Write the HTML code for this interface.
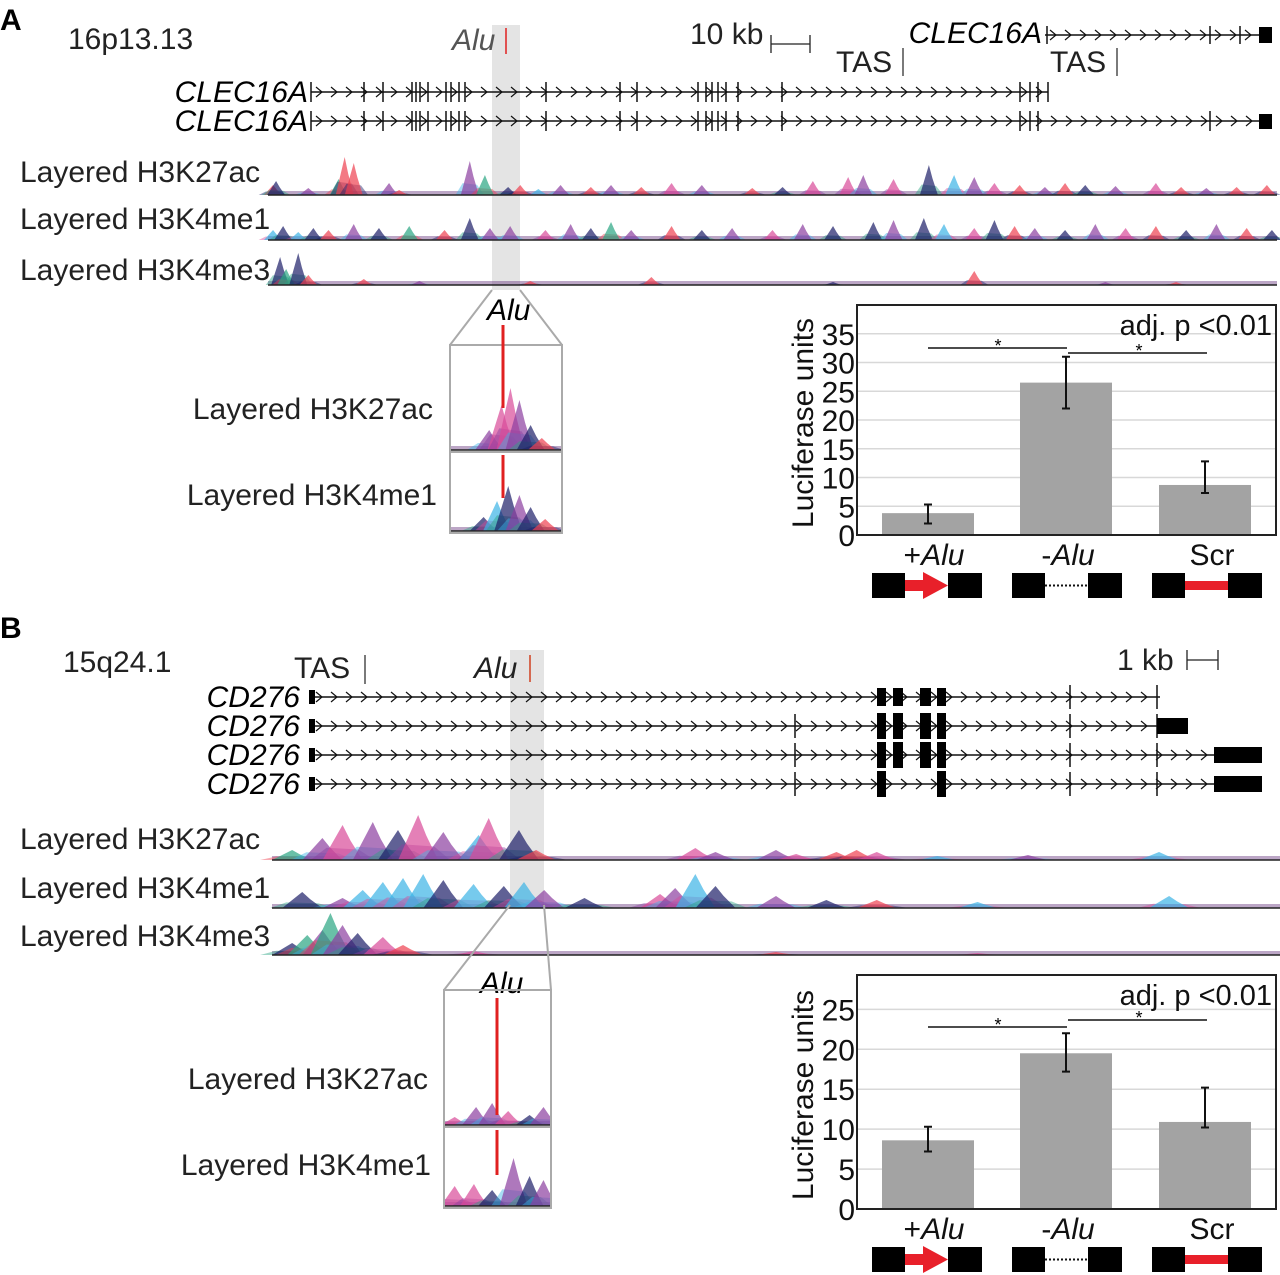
<!DOCTYPE html>
<html><head><meta charset="utf-8"><style>
body{margin:0;background:#fff}
svg{display:block;font-family:"Liberation Sans",Arial,sans-serif}
</style></head><body>
<svg id="fig" width="1280" height="1275" viewBox="0 0 1280 1275" xmlns="http://www.w3.org/2000/svg">
<defs>
<clipPath id="clipA"><rect x="450" y="345" width="112" height="188"/></clipPath>
<clipPath id="clipB"><rect x="444" y="990" width="107" height="218"/></clipPath>
</defs>
<g>
<text x="0" y="30" font-size="30" font-weight="bold">A</text>
<text x="68" y="49" font-size="30" fill="#222">16p13.13</text>
<rect x="492" y="25" width="28" height="265" fill="#e4e4e4"/>
<text x="452" y="50" font-size="30" font-style="italic" fill="#555">Alu</text>
<line x1="506" y1="28" x2="506" y2="54" stroke="#e02020" stroke-width="1.5"/>
<text x="690" y="44" font-size="30" fill="#222">10 kb</text>
<path d="M771 35V53M771 44H810M810 35V53" stroke="#222" stroke-width="1.3" fill="none"/>
<text x="836" y="72" font-size="30" fill="#222">TAS</text>
<line x1="903" y1="48" x2="903" y2="76" stroke="#333" stroke-width="1.3"/>
<text x="1050" y="72" font-size="30" fill="#222">TAS</text>
<line x1="1117" y1="48" x2="1117" y2="76" stroke="#333" stroke-width="1.3"/>
<text x="1042" y="43" font-size="30" font-style="italic" text-anchor="end">CLEC16A</text>
<text x="308" y="102" font-size="30" font-style="italic" text-anchor="end">CLEC16A</text>
<text x="308" y="131" font-size="30" font-style="italic" text-anchor="end">CLEC16A</text>
<g id="genesA"></g>
<text x="20" y="182" font-size="30" fill="#222">Layered H3K27ac</text>
<text x="20" y="229" font-size="30" fill="#222">Layered H3K4me1</text>
<text x="20" y="280" font-size="30" fill="#222">Layered H3K4me3</text>
<g id="tracksA"></g>
<path d="M492 290L450 345M520 290L562 345" stroke="#aaa" stroke-width="2" fill="none"/>
<text x="487" y="320" font-size="30" font-style="italic">Alu</text>
<g id="insetA" clip-path="url(#clipA)"></g>
<rect x="450" y="345" width="112" height="188" fill="none" stroke="#aaa" stroke-width="2"/>
<line x1="450" y1="452" x2="562" y2="452" stroke="#aaa" stroke-width="2"/>
<text x="433" y="419" font-size="30" text-anchor="end" fill="#222">Layered H3K27ac</text>
<text x="437" y="505" font-size="30" text-anchor="end" fill="#222">Layered H3K4me1</text>
<g id="chartA"></g>
</g>
<g>
<text x="0" y="638" font-size="30" font-weight="bold">B</text>
<text x="63" y="672" font-size="30" fill="#222">15q24.1</text>
<rect x="510" y="650" width="34" height="255" fill="#e4e4e4"/>
<text x="294" y="678" font-size="30" fill="#222">TAS</text>
<line x1="365" y1="655" x2="365" y2="684" stroke="#333" stroke-width="1.3"/>
<text x="474" y="678" font-size="30" font-style="italic" fill="#222">Alu</text>
<line x1="530" y1="655" x2="530" y2="682" stroke="#d04020" stroke-width="1.5"/>
<text x="1117" y="670" font-size="30" fill="#222">1 kb</text>
<path d="M1187 650V670M1187 660H1218M1218 650V670" stroke="#222" stroke-width="1.3" fill="none"/>
<text x="300" y="707" font-size="30" font-style="italic" text-anchor="end">CD276</text>
<text x="300" y="736" font-size="30" font-style="italic" text-anchor="end">CD276</text>
<text x="300" y="765" font-size="30" font-style="italic" text-anchor="end">CD276</text>
<text x="300" y="794" font-size="30" font-style="italic" text-anchor="end">CD276</text>
<g id="genesB"></g>
<text x="20" y="849" font-size="30" fill="#222">Layered H3K27ac</text>
<text x="20" y="898" font-size="30" fill="#222">Layered H3K4me1</text>
<text x="20" y="946" font-size="30" fill="#222">Layered H3K4me3</text>
<g id="tracksB"></g>
<path d="M510 905L444 990M544 905L551 990" stroke="#aaa" stroke-width="2" fill="none"/>
<text x="480" y="993" font-size="30" font-style="italic">Alu</text>
<g id="insetB" clip-path="url(#clipB)"></g>
<rect x="444" y="990" width="107" height="218" fill="none" stroke="#aaa" stroke-width="2"/>
<line x1="444" y1="1127" x2="551" y2="1127" stroke="#aaa" stroke-width="2"/>
<text x="428" y="1089" font-size="30" text-anchor="end" fill="#222">Layered H3K27ac</text>
<text x="431" y="1175" font-size="30" text-anchor="end" fill="#222">Layered H3K4me1</text>
<g id="chartB"></g>
</g>
</svg>
<script>
const categories = ["+Alu", "-Alu", "Scr"];
const valuesA = [3.8, 26.5, 8.7];
const errHiA = [5.3, 31.0, 12.8];
const errLoA = [2.0, 22.0, 7.3];
const ticksA = [0, 5, 10, 15, 20, 25, 30, 35];
const valuesB = [8.6, 19.5, 10.9];
const errHiB = [10.3, 22.0, 15.2];
const errLoB = [7.2, 17.2, 10.2];
const ticksB = [0, 5, 10, 15, 20, 25];

const a27x = [5,8,40,70,76,85,120,130,200,215,238,250,268,290,320,340,370,400,430,480,510,540,575,590,620,655,680,700,720,745,770,790,810,840,880,905,930,960,990];
const a27h = [10,14,7,16,38,32,12,5,34,20,8,10,6,10,8,10,8,12,10,7,8,14,18,20,16,30,20,18,12,10,8,12,10,9,12,8,7,8,10];
const a27c = [0,2,1,4,0,0,1,0,1,4,2,0,3,1,0,1,0,5,1,0,2,5,5,1,5,2,3,1,5,0,1,0,2,1,5,0,1,0,0];
const a1x = [5,15,30,45,60,85,110,140,175,200,220,240,275,300,320,340,360,400,430,460,500,530,560,600,620,650,670,700,720,740,760,790,820,850,880,910,940,970,995];
const a1h = [10,14,8,12,10,16,12,14,10,22,12,14,10,16,12,18,10,14,10,12,10,16,14,18,20,22,16,12,20,14,12,10,16,12,14,10,16,12,10];
const a1c = [3,2,3,2,0,1,2,4,0,2,1,1,5,1,2,4,1,0,2,1,5,1,2,2,1,2,3,5,2,0,1,2,1,5,0,2,1,0,2];
const a3x = [12,18,30,40,95,150,260,380,560,700,830,900];
const a3h = [28,16,32,10,6,4,4,8,3,14,3,3];
const a3c = [2,4,2,0,0,1,0,0,2,0,1,0];
const b27x = [20,50,70,100,125,145,170,205,215,245,262,420,440,500,520,560,580,600,660,750,880];
const b27h = [10,22,35,38,30,45,28,25,42,30,10,12,8,10,6,8,10,8,4,5,8];
const b27c = [4,1,5,1,2,5,1,3,5,2,0,5,1,1,5,0,0,5,3,1,3];
const b1x = [30,70,90,110,130,150,170,200,230,250,270,310,385,400,420,440,500,550,600,700,890];
const b1h = [16,10,18,26,30,34,28,24,22,26,18,10,14,20,34,22,12,8,8,6,12];
const b1c = [2,1,3,3,3,3,2,3,2,3,1,2,5,1,3,2,1,2,0,3,3];
const b3x = [20,35,50,58,70,85,110,130,200,500,700];
const b3h = [12,20,25,42,30,22,18,10,4,3,2];
const b3c = [2,4,1,4,1,2,5,0,5,0,5];

const NS = "http://www.w3.org/2000/svg";
const palette = ["#ee4050", "#8c3ea0", "#1c1e68", "#3cb4e6", "#2aa582", "#d84a98"];
function mk(tag, attrs, parent) {
  const e = document.createElementNS(NS, tag);
  for (const k in attrs) e.setAttribute(k, attrs[k]);
  parent.appendChild(e);
  return e;
}

function drawTrack(g, xs, hs, cs, x0, x1, yBase, w, name) {
  const sx = v => x0 + (x1 - x0) * v / 1000;
  const base = mk("rect", {x: x0, y: yBase - 4, width: x1 - x0, height: 4, fill: "#6a3a80", opacity: 0.45}, g);
  
  
  xs.forEach((v, i) => {
    const cx = sx(v);
    const h = hs[i];
    const s = mk("path", {d: `M${cx - w * 1.6} ${yBase} L${cx - w * 0.8} ${yBase - h * 0.35} L${cx + w * 0.8} ${yBase - h * 0.3} L${cx + w * 1.6} ${yBase} Z`, fill: palette[(cs[i] + 2) % 6], opacity: 0.45}, g);
    
    
    const p = mk("path", {d: `M${cx - w} ${yBase} L${cx - w * 0.4} ${yBase - h * 0.6} L${cx} ${yBase - h} L${cx + w * 0.4} ${yBase - h * 0.55} L${cx + w} ${yBase} Z`, fill: palette[cs[i]], opacity: 0.7}, g);
    
    
  });
  const ax = mk("line", {x1: x0, y1: yBase, x2: x1, y2: yBase, stroke: "#222", "stroke-width": 1.5}, g);
  
  
}

function chevrons(g, x0, x1, y, step) {
  let d = "";
  for (let x = x0 + 8; x < x1 - 4; x += step) d += `M${x - 3} ${y - 5}L${x + 3} ${y}L${x - 3} ${y + 5}`;
  mk("path", {d: d, stroke: "#111", "stroke-width": 1.2, fill: "none"}, g);
}
function geneLine(g, x0, x1, y, name) {
  const l = mk("line", {x1: x0, y1: y, x2: x1, y2: y, stroke: "#111", "stroke-width": 1.5}, g);
  
  
  chevrons(g, x0, x1, y, 15);
}
function ticks(g, xs, y, h) {
  xs.forEach(x => mk("line", {x1: x, y1: y - h, x2: x, y2: y + h, stroke: "#111", "stroke-width": 1.5}, g));
}

const gA = document.getElementById("genesA");
geneLine(gA, 311, 1048, 92, "clec16a-transcript-1");
geneLine(gA, 311, 1260, 121, "clec16a-transcript-2");
geneLine(gA, 1045, 1260, 35, "clec16a-transcript-top");
const exA = [311, 364, 383, 412, 416, 420, 428, 446, 451, 459, 465, 546, 620, 637, 698, 706, 712, 718, 726, 738, 782, 1020, 1030, 1038];
ticks(gA, exA, 92, 10);
ticks(gA, exA.concat([1210]), 121, 10);
ticks(gA, [1047, 1210, 1240], 35, 9);
mk("rect", {x: 1259, y: 114, width: 13, height: 15, fill: "#000"}, gA);
mk("rect", {x: 1259, y: 27, width: 13, height: 16, fill: "#000"}, gA);
ticks(gA, [1048], 92, 10);

const gB = document.getElementById("genesB");
const rowsY = [697, 726, 755, 784];
const ends = [1160, 1160, 1262, 1262];
rowsY.forEach((y, i) => {
  geneLine(gB, 311, ends[i], y, "cd276-transcript-" + (i + 1));
  mk("rect", {x: 309, y: y - 7, width: 6, height: 14, fill: "#000"}, gB);
  const boxes = i === 3 ? [[877, 9], [937, 9]] : [[877, 9], [893, 10], [920, 11], [937, 9]];
  boxes.forEach(b => mk("rect", {x: b[0], y: y - (i === 0 ? 9 : 13), width: b[1], height: i === 0 ? 18 : 26, fill: "#000"}, gB));
  ticks(gB, i === 0 ? [1070, 1157] : [795, 1070, 1157], y, 12);
});
mk("rect", {x: 1157, y: 718, width: 31, height: 16, fill: "#000"}, gB);
mk("rect", {x: 1214, y: 747, width: 48, height: 16, fill: "#000"}, gB);
mk("rect", {x: 1214, y: 776, width: 48, height: 16, fill: "#000"}, gB);

const tA = document.getElementById("tracksA");
drawTrack(tA, a27x, a27h, a27c, 268, 1277, 195, 9, "h3k27ac-track-a");
drawTrack(tA, a1x, a1h, a1c, 268, 1277, 240, 9, "h3k4me1-track-a");
drawTrack(tA, a3x, a3h, a3c, 268, 1277, 285, 9, "h3k4me3-track-a");
const tB = document.getElementById("tracksB");
drawTrack(tB, b27x, b27h, b27c, 272, 1280, 860, 20, "h3k27ac-track-b");
drawTrack(tB, b1x, b1h, b1c, 272, 1280, 908, 20, "h3k4me1-track-b");
drawTrack(tB, b3x, b3h, b3c, 272, 1280, 955, 20, "h3k4me3-track-b");

const inA = document.getElementById("insetA");
drawTrack(inA, [350, 460, 540, 620, 720, 820], [20, 45, 62, 50, 25, 12], [1, 5, 5, 1, 2, 0], 450, 562, 450, 14, "inset-h3k27ac-a");
drawTrack(inA, [300, 420, 520, 620, 720, 850], [14, 30, 45, 36, 24, 12], [2, 3, 2, 1, 2, 0], 450, 562, 531, 14, "inset-h3k4me1-a");
mk("line", {x1: 503, y1: 325, x2: 503, y2: 408, stroke: "#e02020", "stroke-width": 3}, inA.parentNode);
mk("line", {x1: 503, y1: 455, x2: 503, y2: 498, stroke: "#e02020", "stroke-width": 3}, inA.parentNode);
const inB = document.getElementById("insetB");
drawTrack(inB, [100, 300, 450, 600, 800, 930], [8, 18, 22, 14, 10, 18], [5, 1, 1, 5, 2, 1], 444, 551, 1125, 14, "inset-h3k27ac-b");
drawTrack(inB, [100, 280, 450, 650, 800, 930], [20, 22, 16, 48, 30, 26], [5, 5, 2, 1, 2, 1], 444, 551, 1206, 14, "inset-h3k4me1-b");
mk("line", {x1: 497, y1: 998, x2: 497, y2: 1115, stroke: "#e02020", "stroke-width": 3}, inB.parentNode);
mk("line", {x1: 497, y1: 1130, x2: 497, y2: 1175, stroke: "#e02020", "stroke-width": 3}, inB.parentNode);

function barChart(gid, vals, hi, lo, tks, yMax, top, bottom, sig) {
  const g = document.getElementById(gid);
  const L = 857, R = 1276;
  const y = v => bottom - (bottom - top) * v / yMax;
  const barX = [882, 1020, 1159];
  const barW = 92;
  tks.forEach(t => {
    if (t > 0) {
      const gl = mk("line", {x1: L, y1: y(t), x2: R, y2: y(t), stroke: "#d8d8d8", "stroke-width": 1.5}, g);
      
      
    }
    const tl = mk("text", {x: 855, y: y(t) + 11, "font-size": 30, "text-anchor": "end", fill: "#111"}, g);
    tl.textContent = t;
    
    
  });
  vals.forEach((v, i) => {
    const b = mk("rect", {x: barX[i], y: y(v), width: barW, height: bottom - y(v), fill: "#a3a3a3"}, g);
    
    
    const cx = barX[i] + barW / 2;
    const e = mk("path", {d: `M${cx} ${y(hi[i])}V${y(lo[i])}M${cx - 4} ${y(hi[i])}H${cx + 4}M${cx - 4} ${y(lo[i])}H${cx + 4}`, stroke: "#111", "stroke-width": 2, fill: "none"}, g);
    
    
  });
  const fr = mk("rect", {x: L, y: top, width: R - L, height: bottom - top, fill: "none", stroke: "#222", "stroke-width": 2}, g);
  
  
  const yt = mk("text", {x: 0, y: 0, "font-size": 30, "text-anchor": "middle", transform: `translate(813 ${(top + bottom) / 2 + 3}) rotate(-90)`, fill: "#111"}, g);
  yt.textContent = "Luciferase units";
  
  
  const pv = mk("text", {x: 1272, y: top + 30, "font-size": 29, "text-anchor": "end", fill: "#111"}, g);
  pv.textContent = "adj. p <0.01";
  
  
  mk("line", {x1: 928, y1: sig[0], x2: 1067, y2: sig[0], stroke: "#111", "stroke-width": 1.5}, g);
  mk("line", {x1: 1068, y1: sig[1], x2: 1207, y2: sig[1], stroke: "#111", "stroke-width": 1.5}, g);
  const s1 = mk("text", {x: 998, y: sig[0] + 4, "font-size": 18, "text-anchor": "middle"}, g); s1.textContent = "*";
  
  
  const s2 = mk("text", {x: 1139, y: sig[1] + 4, "font-size": 18, "text-anchor": "middle"}, g); s2.textContent = "*";
  
  
  const cy = bottom + 30;
  const centers = [934, 1068, 1212];
  categories.forEach((c, i) => {
    const t = mk("text", {x: centers[i], y: cy, "font-size": 30, "text-anchor": "middle", fill: "#111"}, g);
    if (c === "Scr") t.textContent = c;
    else {
      t.textContent = c[0];
      const ts = mk("tspan", {"font-style": "italic"}, t); ts.textContent = "Alu";
    }
    
    
  });
  const iy = bottom + 38;
  [[872, 948], [1012, 1088], [1152, 1228]].forEach((p, i) => {
    mk("rect", {x: p[0], y: iy, width: 33, height: 25, fill: "#000"}, g);
    mk("rect", {x: p[1], y: iy, width: 34, height: 25, fill: "#000"}, g);
    if (i === 0) mk("path", {d: `M905 ${iy + 7}H923V${iy - 1}L948 ${iy + 12.5}L923 ${iy + 26}V${iy + 18}H905Z`, fill: "#e8202a"}, g);
    if (i === 1) mk("line", {x1: 1045, y1: iy + 12.5, x2: 1088, y2: iy + 12.5, stroke: "#111", "stroke-width": 2, "stroke-dasharray": "2 2"}, g);
    if (i === 2) mk("rect", {x: 1185, y: iy + 8, width: 43, height: 9, fill: "#e8202a"}, g);
  });
}
barChart("chartA", valuesA, errHiA, errLoA, ticksA, 40, 305, 535, [348, 353]);
barChart("chartB", valuesB, errHiB, errLoB, ticksB, 29.3, 975, 1209, [1027, 1020]);
</script>
</body></html>
